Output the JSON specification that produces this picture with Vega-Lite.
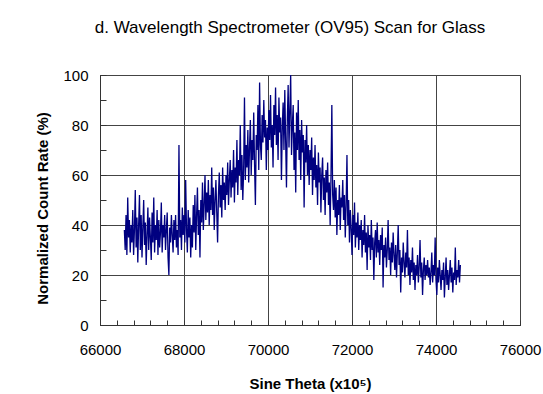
{
  "$schema": "https://vega.github.io/schema/vega-lite/v6.json",
  "width": 420,
  "height": 250,
  "autosize": {"type": "none"},
  "padding": {"left": 100, "top": 75, "right": 23, "bottom": 69},
  "background": "white",
  "title": {
    "text": "d. Wavelength Spectrometer (OV95) Scan for Glass",
    "font": "Liberation Sans",
    "fontSize": 17,
    "fontWeight": "normal",
    "color": "#000000",
    "anchor": "middle",
    "frame": "group",
    "baseline": "alphabetic",
    "offset": 18,
    "dx": -20
  },
  "data": {
    "values": [
      {"s":66580,"c":38},{"s":66600,"c":30},{"s":66620,"c":44},{"s":66640,"c":28},{"s":66660,"c":51},{"s":66680,"c":35},{"s":66700,"c":42},{"s":66720,"c":29},{"s":66740,"c":40},{"s":66760,"c":33},{"s":66780,"c":46},{"s":66800,"c":28},{"s":66820,"c":38},{"s":66840,"c":54},{"s":66860,"c":31},{"s":66880,"c":43},{"s":66900,"c":25},{"s":66920,"c":40},{"s":66940,"c":52},{"s":66960,"c":30},{"s":66980,"c":44},
      {"s":67000,"c":27},{"s":67020,"c":39},{"s":67040,"c":50},{"s":67060,"c":32},{"s":67080,"c":41},{"s":67100,"c":24},{"s":67120,"c":36},{"s":67140,"c":47},{"s":67160,"c":30},{"s":67180,"c":43},{"s":67200,"c":35},{"s":67220,"c":26},{"s":67240,"c":45},{"s":67260,"c":33},{"s":67280,"c":51},{"s":67300,"c":29},{"s":67320,"c":40},{"s":67340,"c":34},{"s":67360,"c":46},{"s":67380,"c":28},
      {"s":67400,"c":42},{"s":67420,"c":31},{"s":67440,"c":37},{"s":67460,"c":49},{"s":67480,"c":29},{"s":67500,"c":40},{"s":67520,"c":35},{"s":67540,"c":44},{"s":67560,"c":30},{"s":67580,"c":38},{"s":67600,"c":45},{"s":67620,"c":27},{"s":67640,"c":20},{"s":67660,"c":39},{"s":67680,"c":33},{"s":67700,"c":44},{"s":67720,"c":36},{"s":67740,"c":29},{"s":67760,"c":42},{"s":67780,"c":34},
      {"s":67800,"c":44},{"s":67820,"c":31},{"s":67840,"c":38},{"s":67860,"c":28},{"s":67880,"c":72},{"s":67900,"c":35},{"s":67920,"c":42},{"s":67940,"c":30},{"s":67960,"c":47},{"s":67980,"c":36},{"s":68000,"c":44},{"s":68020,"c":33},{"s":68040,"c":58},{"s":68060,"c":38},{"s":68080,"c":29},{"s":68100,"c":46},{"s":68120,"c":35},{"s":68140,"c":43},{"s":68160,"c":27},{"s":68180,"c":40},
      {"s":68200,"c":31},{"s":68220,"c":48},{"s":68240,"c":37},{"s":68260,"c":52},{"s":68280,"c":30},{"s":68300,"c":44},{"s":68320,"c":55},{"s":68340,"c":36},{"s":68360,"c":46},{"s":68380,"c":27},{"s":68400,"c":50},{"s":68420,"c":41},{"s":68440,"c":57},{"s":68460,"c":38},{"s":68480,"c":48},{"s":68500,"c":60},{"s":68520,"c":42},{"s":68540,"c":53},{"s":68560,"c":45},{"s":68580,"c":58},
      {"s":68600,"c":40},{"s":68620,"c":52},{"s":68640,"c":46},{"s":68660,"c":63},{"s":68680,"c":44},{"s":68700,"c":55},{"s":68720,"c":38},{"s":68740,"c":50},{"s":68760,"c":58},{"s":68780,"c":45},{"s":68800,"c":33},{"s":68820,"c":52},{"s":68840,"c":61},{"s":68860,"c":47},{"s":68880,"c":56},{"s":68900,"c":43},{"s":68920,"c":63},{"s":68940,"c":50},{"s":68960,"c":57},{"s":68980,"c":46},
      {"s":69000,"c":60},{"s":69020,"c":52},{"s":69040,"c":65},{"s":69060,"c":48},{"s":69080,"c":58},{"s":69100,"c":66},{"s":69120,"c":51},{"s":69140,"c":62},{"s":69160,"c":55},{"s":69180,"c":70},{"s":69200,"c":49},{"s":69220,"c":63},{"s":69240,"c":57},{"s":69260,"c":74},{"s":69280,"c":52},{"s":69300,"c":66},{"s":69320,"c":60},{"s":69340,"c":80},{"s":69360,"c":54},{"s":69380,"c":68},
      {"s":69400,"c":50},{"s":69420,"c":62},{"s":69440,"c":91},{"s":69460,"c":58},{"s":69480,"c":72},{"s":69500,"c":63},{"s":69520,"c":78},{"s":69540,"c":57},{"s":69560,"c":71},{"s":69580,"c":82},{"s":69600,"c":60},{"s":69620,"c":74},{"s":69640,"c":66},{"s":69660,"c":85},{"s":69680,"c":64},{"s":69700,"c":48},{"s":69720,"c":76},{"s":69740,"c":70},{"s":69760,"c":88},{"s":69780,"c":62},
      {"s":69800,"c":97},{"s":69820,"c":72},{"s":69840,"c":66},{"s":69860,"c":84},{"s":69880,"c":73},{"s":69900,"c":90},{"s":69920,"c":75},{"s":69940,"c":82},{"s":69960,"c":62},{"s":69980,"c":79},{"s":70000,"c":70},{"s":70020,"c":86},{"s":70040,"c":74},{"s":70060,"c":92},{"s":70080,"c":71},{"s":70100,"c":80},{"s":70120,"c":63},{"s":70140,"c":88},{"s":70160,"c":76},{"s":70180,"c":95},
      {"s":70200,"c":72},{"s":70220,"c":84},{"s":70240,"c":66},{"s":70260,"c":91},{"s":70280,"c":77},{"s":70300,"c":83},{"s":70320,"c":58},{"s":70340,"c":79},{"s":70360,"c":89},{"s":70380,"c":70},{"s":70400,"c":94},{"s":70420,"c":74},{"s":70440,"c":55},{"s":70460,"c":82},{"s":70480,"c":96},{"s":70500,"c":71},{"s":70520,"c":86},{"s":70540,"c":100},{"s":70560,"c":68},{"s":70580,"c":80},
      {"s":70600,"c":88},{"s":70620,"c":62},{"s":70640,"c":77},{"s":70660,"c":53},{"s":70680,"c":85},{"s":70700,"c":70},{"s":70720,"c":90},{"s":70740,"c":66},{"s":70760,"c":78},{"s":70780,"c":58},{"s":70800,"c":82},{"s":70820,"c":69},{"s":70840,"c":76},{"s":70860,"c":47},{"s":70880,"c":74},{"s":70900,"c":65},{"s":70920,"c":80},{"s":70940,"c":60},{"s":70960,"c":72},{"s":70980,"c":56},
      {"s":71000,"c":70},{"s":71020,"c":62},{"s":71040,"c":75},{"s":71060,"c":52},{"s":71080,"c":67},{"s":71100,"c":58},{"s":71120,"c":72},{"s":71140,"c":55},{"s":71160,"c":64},{"s":71180,"c":48},{"s":71200,"c":69},{"s":71220,"c":57},{"s":71240,"c":63},{"s":71260,"c":45},{"s":71280,"c":60},{"s":71300,"c":67},{"s":71320,"c":50},{"s":71340,"c":59},{"s":71360,"c":44},{"s":71380,"c":62},
      {"s":71400,"c":53},{"s":71420,"c":65},{"s":71440,"c":48},{"s":71460,"c":57},{"s":71480,"c":40},{"s":71500,"c":60},{"s":71520,"c":88},{"s":71540,"c":52},{"s":71560,"c":46},{"s":71580,"c":58},{"s":71600,"c":43},{"s":71620,"c":55},{"s":71640,"c":36},{"s":71660,"c":50},{"s":71680,"c":44},{"s":71700,"c":56},{"s":71720,"c":38},{"s":71740,"c":51},{"s":71760,"c":47},{"s":71780,"c":58},
      {"s":71800,"c":42},{"s":71820,"c":52},{"s":71840,"c":35},{"s":71860,"c":48},{"s":71880,"c":68},{"s":71900,"c":40},{"s":71920,"c":50},{"s":71940,"c":33},{"s":71960,"c":46},{"s":71980,"c":39},{"s":72000,"c":28},{"s":72020,"c":44},{"s":72040,"c":36},{"s":72060,"c":49},{"s":72080,"c":31},{"s":72100,"c":41},{"s":72120,"c":35},{"s":72140,"c":45},{"s":72160,"c":30},{"s":72180,"c":40},
      {"s":72200,"c":34},{"s":72220,"c":42},{"s":72240,"c":27},{"s":72260,"c":38},{"s":72280,"c":32},{"s":72300,"c":44},{"s":72320,"c":29},{"s":72340,"c":37},{"s":72360,"c":22},{"s":72380,"c":40},{"s":72400,"c":31},{"s":72420,"c":36},{"s":72440,"c":26},{"s":72460,"c":42},{"s":72480,"c":30},{"s":72500,"c":35},{"s":72520,"c":18},{"s":72540,"c":33},{"s":72560,"c":38},{"s":72580,"c":27},
      {"s":72600,"c":41},{"s":72620,"c":29},{"s":72640,"c":34},{"s":72660,"c":24},{"s":72680,"c":36},{"s":72700,"c":30},{"s":72720,"c":39},{"s":72740,"c":15},{"s":72760,"c":32},{"s":72780,"c":27},{"s":72800,"c":35},{"s":72820,"c":23},{"s":72840,"c":30},{"s":72860,"c":42},{"s":72880,"c":26},{"s":72900,"c":31},{"s":72920,"c":20},{"s":72940,"c":33},{"s":72960,"c":25},{"s":72980,"c":37},
      {"s":73000,"c":28},{"s":73020,"c":22},{"s":73040,"c":32},{"s":73060,"c":19},{"s":73080,"c":29},{"s":73100,"c":40},{"s":73120,"c":24},{"s":73140,"c":30},{"s":73160,"c":13},{"s":73180,"c":27},{"s":73200,"c":21},{"s":73220,"c":33},{"s":73240,"c":25},{"s":73260,"c":19},{"s":73280,"c":29},{"s":73300,"c":23},{"s":73320,"c":38},{"s":73340,"c":20},{"s":73360,"c":27},{"s":73380,"c":16},
      {"s":73400,"c":26},{"s":73420,"c":21},{"s":73440,"c":31},{"s":73460,"c":18},{"s":73480,"c":25},{"s":73500,"c":14},{"s":73520,"c":24},{"s":73540,"c":20},{"s":73560,"c":28},{"s":73580,"c":17},{"s":73600,"c":23},{"s":73620,"c":34},{"s":73640,"c":19},{"s":73660,"c":25},{"s":73680,"c":12},{"s":73700,"c":22},{"s":73720,"c":27},{"s":73740,"c":18},{"s":73760,"c":24},{"s":73780,"c":20},
      {"s":73800,"c":26},{"s":73820,"c":19},{"s":73840,"c":23},{"s":73860,"c":16},{"s":73880,"c":21},{"s":73900,"c":29},{"s":73920,"c":17},{"s":73940,"c":24},{"s":73960,"c":20},{"s":73980,"c":35},{"s":74000,"c":18},{"s":74020,"c":12},{"s":74040,"c":23},{"s":74060,"c":17},{"s":74080,"c":26},{"s":74100,"c":20},{"s":74120,"c":14},{"s":74140,"c":22},{"s":74160,"c":18},{"s":74180,"c":25},
      {"s":74200,"c":11},{"s":74220,"c":19},{"s":74240,"c":27},{"s":74260,"c":16},{"s":74280,"c":22},{"s":74300,"c":14},{"s":74320,"c":20},{"s":74340,"c":26},{"s":74360,"c":17},{"s":74380,"c":23},{"s":74400,"c":13},{"s":74420,"c":21},{"s":74440,"c":18},{"s":74460,"c":31},{"s":74480,"c":16},{"s":74500,"c":22},{"s":74520,"c":19},{"s":74540,"c":26},{"s":74560,"c":17},{"s":74580,"c":24}
    ]
  },
  "mark": {"type": "line", "color": "#000080", "strokeWidth": 1.3, "clip": true},
  "encoding": {
    "x": {
      "field": "s",
      "type": "quantitative",
      "scale": {"domain": [66000, 76000], "nice": false, "zero": false},
      "axis": {
        "title": "Sine Theta (x10⁵)",
        "values": [66000,66400,66800,67200,67600,68000,68400,68800,69200,69600,70000,70400,70800,71200,71600,72000,72400,72800,73200,73600,74000,74400,74800,75200,75600,76000],
        "format": "d",
        "labelExpr": "datum.value % 2000 === 0 ? datum.label : ''",
        "labelFlush": false,
        "labelOverlap": false,
        "labelFontSize": 15,
        "labelColor": "#000000",
        "labelPadding": 22,
        "tickSize": -5,
        "tickColor": "#333333",
        "domainColor": "#333333",
        "grid": true,
        "gridColor": "#444444",
        "gridWidth": 1,
        "gridOpacity": {"condition": {"test": "datum.value % 2000 === 0", "value": 1}, "value": 0},
        "titleFontSize": 15,
        "titleFontWeight": "bold",
        "titleColor": "#000000",
        "titleBaseline": "alphabetic",
        "titleY": 63
      }
    },
    "y": {
      "field": "c",
      "type": "quantitative",
      "scale": {"domain": [0, 100], "nice": false},
      "axis": {
        "title": "Normalized Count Rate (%)",
        "values": [0,10,20,30,40,50,60,70,80,90,100],
        "labelExpr": "datum.value % 20 === 0 ? datum.label : ''",
        "labelFlush": false,
        "labelOverlap": false,
        "labelFontSize": 15,
        "labelColor": "#000000",
        "labelPadding": 18,
        "tickSize": -6,
        "tickColor": "#333333",
        "domainColor": "#333333",
        "grid": true,
        "gridColor": "#444444",
        "gridWidth": 1,
        "gridOpacity": {"condition": {"test": "datum.value % 20 === 0", "value": 1}, "value": 0},
        "titleFontSize": 15,
        "titleFontWeight": "bold",
        "titleColor": "#000000",
        "titleBaseline": "middle",
        "titleAlign": "center",
        "titleAngle": -90,
        "titleX": -58,
        "titleY": 133
      }
    }
  },
  "config": {
    "font": "Liberation Sans",
    "view": {"stroke": "#333333", "strokeWidth": 1, "fill": "white"}
  }
}
